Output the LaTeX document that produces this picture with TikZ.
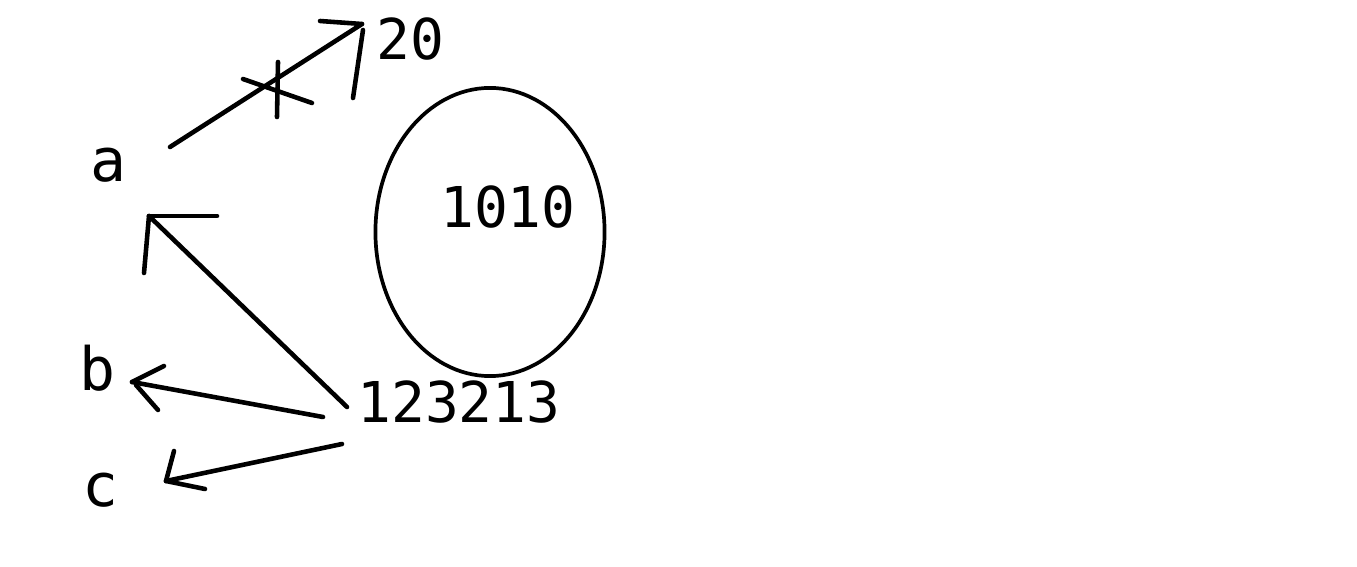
\documentclass[tikz,border=0pt]{standalone}
\usepackage{fontspec}
\setmonofont{DejaVu Sans Mono}
\usetikzlibrary{shapes.geometric}

\begin{document}
\begin{tikzpicture}[x=0.01cm,y=-0.01cm,line width=1.3pt,line cap=round,
  letter node/.style={font=\ttfamily\fontsize{17}{19}\selectfont,inner sep=0pt},
  number node/.style={font=\ttfamily\fontsize{16}{18}\selectfont,inner sep=0pt}]
  \useasboundingbox (0,0) rectangle (1357,567);

  \node[letter node] (A) at (108,165) {a};
  \node[letter node] (B) at (97,368) {b};
  \node[letter node] (C) at (100,490) {c};
  \node[number node] (N20) at (410,39) {20};
  \node[number node] (N1010) at (508,207) {1010};
  \node[number node] (N123213) at (459,402) {123213};
  \node[ellipse,draw,line width=1.05pt,minimum width=2.29cm,
    minimum height=2.88cm,inner sep=0pt] (OVAL) at (490,232) {};

  % hand-drawn arrows: tail and tip of each line, barbs drawn from the tip
  \coordinate (A out) at (170,147);
  \coordinate (N20 in) at (362,24);
  \coordinate (N123213 a) at (347,407);
  \coordinate (A in) at (149,216);
  \coordinate (N123213 b) at (323,417);
  \coordinate (B in) at (132,382);
  \coordinate (N123213 c) at (342,444);
  \coordinate (C in) at (166,481);

  \draw (A out) -- (N20 in);
  \draw (N20 in) -- ++(-42,-3);
  \draw (N20 in) ++(1,6) -- ++(-10,68);
  % crossed out
  \draw (243,79) -- (312,103);
  \draw (278,62) -- (277,117);

  \draw (N123213 a) -- (A in);
  \draw (A in) -- ++(68,0);
  \draw (A in) -- ++(-5,57);

  \draw (N123213 b) -- (B in);
  \draw (B in) -- ++(32,-16);
  \draw (B in) ++(4,3) -- ++(22,25);

  \draw (N123213 c) -- (C in);
  \draw (C in) -- ++(8,-30);
  \draw (C in) -- ++(39,8);
\end{tikzpicture}
\end{document}
